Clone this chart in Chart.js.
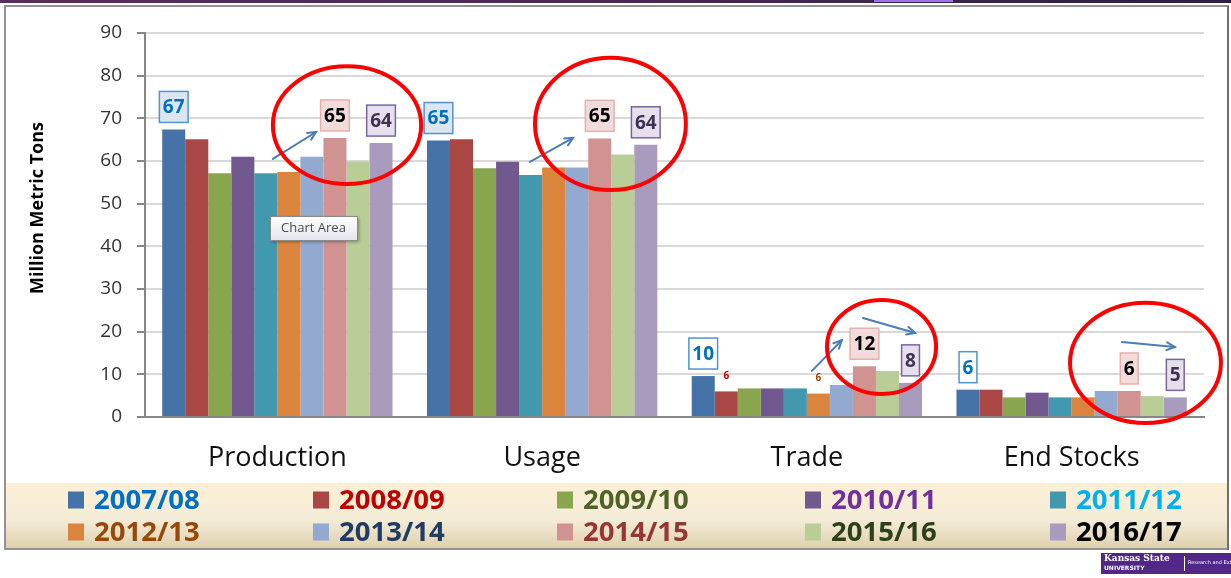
<!DOCTYPE html>
<html><head><meta charset="utf-8">
<script src="https://cdn.jsdelivr.net/npm/chart.js@4/dist/chart.umd.min.js"></script>
<style>html,body{margin:0;padding:0;background:#fff;overflow:hidden}canvas{display:block}</style>
</head><body>
<canvas id="c" width="1231" height="578"></canvas>
<script>
// ---------------- DATA ----------------
const categories = ['Production', 'Usage', 'Trade', 'End Stocks'];
const seasons = ['2007/08', '2008/09', '2009/10', '2010/11', '2011/12', '2012/13', '2013/14', '2014/15', '2015/16', '2016/17'];
const s2007 = [67.4, 64.8, 9.6, 6.4];
const s2008 = [65.1, 65.1, 6.0, 6.4];
const s2009 = [57.1, 58.3, 6.7, 4.6];
const s2010 = [61.0, 59.8, 6.7, 5.7];
const s2011 = [57.1, 56.7, 6.7, 4.6];
const s2012 = [57.4, 58.5, 5.5, 4.6];
const s2013 = [61.0, 58.5, 7.5, 6.1];
const s2014 = [65.4, 65.3, 11.9, 6.1];
const s2015 = [59.9, 61.5, 10.8, 4.9];
const s2016 = [64.2, 63.8, 8.0, 4.6];
const yTickValues = [0, 10, 20, 30, 40, 50, 60, 70, 80, 90];
const yTitle = 'Million Metric Tons';

// ---------------- STYLE ----------------
const barColors = ['#4572A7', '#AA4643', '#89A54E', '#71588F', '#4198AF', '#DB843D', '#93A9CF', '#D19392', '#B9CD96', '#A99BBD'];
const legendTextColors = ['#0070C0', '#C00000', '#4F6228', '#7030A0', '#00B0F0', '#984807', '#1F3C64', '#953735', '#2D4118', '#000000'];
const FONT = '"Open Sans", "DejaVu Sans", sans-serif';

// value labels: [datasetIndex, categoryIndex, style]
const valueLabels = [
  [0, 0, 'blueFill'], [7, 0, 'pink'], [9, 0, 'purple'],
  [0, 1, 'blueFill'], [7, 1, 'pink'], [9, 1, 'purple'],
  [0, 2, 'blueWhite'], [1, 2, 'smallRed'], [5, 2, 'smallBrown'], [7, 2, 'pink'], [9, 2, 'purple'],
  [0, 3, 'blueWhite'], [7, 3, 'pink'], [9, 3, 'purple']
];
const labelStyles = {
  blueFill: {fill: '#DCE6F2', stroke: '#4F94D4', color: '#0070C0'},
  blueWhite: {fill: '#FFFFFF', stroke: '#4F94D4', color: '#0070C0'},
  pink: {fill: '#F2DCDB', stroke: '#E6B0AF', color: '#000000'},
  purple: {fill: '#E5E0EC', stroke: '#7B65A0', color: '#3F3151'},
  smallRed: {small: true, color: '#C00000'},
  smallBrown: {small: true, color: '#984807'}
};
// highlight ellipses: category, x-offset (fraction of category), centre value, x-radius (fraction), y-radius (value units)
const ellipses = [
  [0, 0.263, 68.4, 0.28, 13.8],
  [1, 0.258, 68.7, 0.285, 15.5],
  [2, 0.282, 16.4, 0.206, 11.0],
  [3, 0.279, 12.7, 0.285, 14.1]
];
// trend arrows: category, x0 offset, v0, x1 offset, v1
const arrows = [
  [0, -0.017, 60.5, 0.146, 66.8],
  [1, -0.046, 59.8, 0.117, 65.4],
  [2, 0.019, 10.8, 0.132, 18.0],
  [2, 0.212, 23.2, 0.409, 19.7],
  [3, 0.190, 17.6, 0.390, 16.4]
];

const seriesValues = [s2007, s2008, s2009, s2010, s2011, s2012, s2013, s2014, s2015, s2016];
const datasets = seasons.map((s, i) => ({
  label: s,
  data: seriesValues[i],
  backgroundColor: barColors[i],
  borderWidth: 0,
  categoryPercentage: 0.87,
  barPercentage: 1.0
}));

const decoPlugin = {
  id: 'deco',
  beforeDraw(chart) {
    const ctx = chart.ctx;
    ctx.save();
    ctx.fillStyle = '#fff';
    ctx.fillRect(0, 0, chart.width, chart.height);
    // top strip
    let g = ctx.createLinearGradient(0, 0, chart.width, 0);
    g.addColorStop(0, '#5A2C5E'); g.addColorStop(0.5, '#4A2858'); g.addColorStop(1, '#2B1F48');
    ctx.fillStyle = g; ctx.fillRect(0, 0, chart.width, 3);
    ctx.fillStyle = '#9C72EE'; ctx.fillRect(874, 0, 79, 2);
    // legend background
    g = ctx.createLinearGradient(0, 483, 0, 549);
    g.addColorStop(0, '#FDEFD5'); g.addColorStop(0.55, '#F4ECD8'); g.addColorStop(1, '#DDD0AE');
    ctx.fillStyle = g; ctx.fillRect(6, 483, 1221, 66);
    // outer border
    ctx.strokeStyle = '#939393'; ctx.lineWidth = 2;
    ctx.strokeRect(5, 6, 1223, 543);
    ctx.strokeStyle = '#707070';
    ctx.beginPath(); ctx.moveTo(1228, 6); ctx.lineTo(1228, 550); ctx.stroke();
    ctx.restore();
  },
  afterDatasetsDraw(chart) {
    const ctx = chart.ctx;
    const xs = chart.scales.x, ys = chart.scales.y;
    const cw = xs.width / categories.length;
    ctx.save();
    // value labels
    valueLabels.forEach(([ds, cat, st]) => {
      const el = chart.getDatasetMeta(ds).data[cat];
      const val = chart.data.datasets[ds].data[cat];
      const txt = String(Math.round(val));
      const s = labelStyles[st];
      ctx.textAlign = 'center'; ctx.textBaseline = 'middle';
      if (s.small) {
        ctx.font = 'bold 10px ' + FONT;
        ctx.fillStyle = s.color;
        ctx.fillText(txt, el.x, el.y - 15);
        return;
      }
      ctx.font = 'bold 19px ' + FONT;
      const tw = ctx.measureText(txt).width;
      const w = tw + 7, h = 31;
      const bx = el.x - w / 2, by = el.y - 7 - h;
      ctx.fillStyle = s.fill; ctx.fillRect(bx, by, w, h);
      ctx.strokeStyle = s.stroke; ctx.lineWidth = 1.5; ctx.strokeRect(bx, by, w, h);
      ctx.fillStyle = s.color;
      ctx.fillText(txt, el.x, by + h / 2 + 1);
    });
    // arrows
    ctx.strokeStyle = '#4A7EBB'; ctx.lineWidth = 2; ctx.lineCap = 'round';
    arrows.forEach(([cat, a0, v0, a1, v1]) => {
      const c = xs.getPixelForValue(cat);
      const x0 = c + a0 * cw, y0 = ys.getPixelForValue(v0);
      const x1 = c + a1 * cw, y1 = ys.getPixelForValue(v1);
      const ang = Math.atan2(y1 - y0, x1 - x0);
      ctx.beginPath(); ctx.moveTo(x0, y0); ctx.lineTo(x1, y1); ctx.stroke();
      ctx.beginPath();
      ctx.moveTo(x1 - 9 * Math.cos(ang - 0.45), y1 - 9 * Math.sin(ang - 0.45));
      ctx.lineTo(x1, y1);
      ctx.lineTo(x1 - 9 * Math.cos(ang + 0.45), y1 - 9 * Math.sin(ang + 0.45));
      ctx.stroke();
    });
    // ellipses
    ctx.strokeStyle = '#FF0000'; ctx.lineWidth = 4;
    ellipses.forEach(([cat, dx, v, rx, rv]) => {
      const cx = xs.getPixelForValue(cat) + dx * cw;
      const cy = ys.getPixelForValue(v);
      const ry = ys.getPixelForValue(0) - ys.getPixelForValue(rv);
      ctx.beginPath(); ctx.ellipse(cx, cy, rx * cw, ry, 0, 0, Math.PI * 2); ctx.stroke();
    });
    ctx.restore();
  },
  afterDraw(chart) {
    const ctx = chart.ctx;
    ctx.save();
    // y title
    ctx.translate(38, 208); ctx.rotate(-Math.PI / 2);
    ctx.font = 'bold 18px ' + FONT; ctx.fillStyle = '#000';
    ctx.textAlign = 'center'; ctx.textBaseline = 'middle';
    ctx.fillText(yTitle, 0, 0);
    ctx.restore();
    // legend
    ctx.save();
    const colX = [68, 313, 557, 805, 1050], rowY = [500, 532];
    ctx.font = 'bold 27.5px ' + FONT; ctx.textAlign = 'left'; ctx.textBaseline = 'middle';
    chart.data.datasets.forEach((d, i) => {
      const r = Math.floor(i / 5), c = i % 5;
      ctx.fillStyle = d.backgroundColor;
      ctx.fillRect(colX[c], rowY[r] - 8.5, 16, 17);
      ctx.fillStyle = legendTextColors[i];
      ctx.fillText(d.label, colX[c] + 26, rowY[r] + 1);
    });
    ctx.restore();
    // "Chart Area" tooltip
    ctx.save();
    ctx.shadowColor = 'rgba(0,0,0,0.35)'; ctx.shadowOffsetX = 2; ctx.shadowOffsetY = 2; ctx.shadowBlur = 3;
    const g = ctx.createLinearGradient(0, 216, 0, 240);
    g.addColorStop(0, '#FFFFFF'); g.addColorStop(1, '#E4E5EE');
    ctx.fillStyle = g; ctx.fillRect(270, 216, 87, 24);
    ctx.shadowColor = 'transparent';
    ctx.strokeStyle = '#8A8A8A'; ctx.lineWidth = 1; ctx.strokeRect(270.5, 216.5, 87, 24);
    ctx.fillStyle = '#4C4C4C'; ctx.font = '13px ' + FONT; ctx.textAlign = 'center'; ctx.textBaseline = 'middle';
    ctx.fillText('Chart Area', 313.5, 228.5);
    ctx.restore();
    // logo
    ctx.save();
    ctx.fillStyle = '#512888'; ctx.fillRect(1101, 553, 130, 21);
    ctx.fillStyle = '#fff'; ctx.font = 'bold 9px "DejaVu Serif", serif'; ctx.textBaseline = 'middle'; ctx.textAlign = 'left';
    ctx.fillText('Kansas State', 1104, 559);
    ctx.font = 'bold 6px "DejaVu Sans", sans-serif';
    ctx.fillText('UNIVERSITY', 1104, 568);
    ctx.fillRect(1184, 556, 1, 15);
    ctx.font = '5px "DejaVu Sans", sans-serif';
    ctx.fillText('Research and Extension', 1188, 563);
    ctx.restore();
  }
};

new Chart(document.getElementById('c'), {
  type: 'bar',
  data: {labels: categories, datasets},
  plugins: [decoPlugin],
  options: {
    responsive: false,
    animation: false,
    devicePixelRatio: 1,
    layout: {padding: {left: 0, top: 33, right: 27, bottom: 95}},
    plugins: {legend: {display: false}, tooltip: {enabled: false}},
    scales: {
      x: {
        grid: {display: false, drawTicks: false},
        border: {display: true, color: '#868686', width: 2},
        ticks: {color: '#111', font: {family: FONT, size: 27}, padding: 25},
        afterFit(s) { s.height = 66; }
      },
      y: {
        min: 0, max: 90,
        afterBuildTicks(s) { s.ticks = yTickValues.map(v => ({value: v})); },
        grid: {color: '#D9D9D9', lineWidth: 2, tickLength: 8, tickColor: '#868686', tickWidth: 2},
        border: {display: true, color: '#868686', width: 2},
        ticks: {color: '#333', font: {family: FONT, size: 19}, padding: 15},
        afterFit(s) { s.width = 145; }
      }
    }
  }
});
</script>
</body></html>
